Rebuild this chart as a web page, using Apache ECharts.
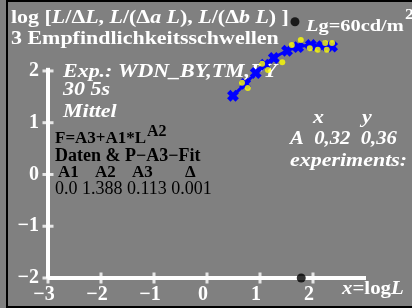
<!DOCTYPE html>
<html>
<head>
<meta charset="utf-8">
<script src="https://cdn.jsdelivr.net/npm/echarts@6.0.0/dist/echarts.min.js"></script>
<style>
  html, body { margin: 0; padding: 0; background: #808080; }
  #chart { width: 412px; height: 308px; }
</style>
</head>
<body>
<div id="chart"></div>
<script>
// tick values
const xTicks = [-3, -2, -1, 0, 1, 2];
const yTicks = [-2, -1, 0, 1, 2];

// fitted curve (blue crosses)
const blueX = [0.49, 0.72, 0.92, 1.09, 1.26, 1.51, 1.72, 1.96, 2.17, 2.36];
const blueY = [1.52, 1.75, 1.96, 2.12, 2.25, 2.39, 2.46, 2.50, 2.48, 2.47];

// measured data (yellow dots)
const yellowX = [0.66, 0.77, 1.04, 1.15, 1.42, 1.60, 1.77, 1.94, 2.09, 2.23, 2.26, 2.36];
const yellowY = [1.77, 1.67, 2.14, 2.02, 2.17, 2.50, 2.60, 2.44, 2.41, 2.54, 2.41, 2.54];

// adaptation luminance markers (top one is the legend bullet)
const markX = [1.66, 1.778];
const markY = [2.95, -2];

// fit table
const fitHeads = ['A1', 'A2', 'A3', '\u0394'];
const fitVals = ['0.0', '1.388', '0.113', '0.001'];

const SERIF = '"Liberation Serif", "DejaVu Serif", serif';
const minus = v => String(v).replace('-', '\u2212');
const SX = 1.22; // white labels are drawn wider

const chart = echarts.init(document.getElementById('chart'));

const zip = (a, b) => a.map((v, i) => [v, b[i]]);

const txt = (x, y, text, opts = {}, sx = 1) => ({
  type: 'text',
  x: x,
  y: y,
  z: 0,
  scaleX: sx,
  silent: true,
  style: Object.assign({
    text: text,
    fill: '#fff',
    fontFamily: SERIF,
    fontSize: 18,
    fontWeight: 'bold',
    verticalAlign: 'middle'
  }, opts)
});

const rich = (color, size) => ({
  n: { fill: color, fontFamily: SERIF, fontSize: size, fontWeight: 'bold' },
  i: { fill: color, fontFamily: SERIF, fontSize: size, fontWeight: 'bold', fontStyle: 'italic' }
});

const xPlus = 'path://M3,0H7V3H10V7H7V10H3V7H0V3H3Z';

const option = {
  backgroundColor: '#808080',
  animation: false,
  grid: { left: 48, right: 46, top: 14, bottom: 30 },
  xAxis: {
    type: 'value', min: -3, max: 3, interval: 1,
    axisLine: { show: false }, axisTick: { show: false }, splitLine: { show: false },
    axisLabel: {
      color: '#fff', fontFamily: SERIF, fontWeight: 'bold', fontSize: 20, margin: 7,
      padding: [0, 8, 0, 0],
      formatter: v => xTicks.includes(v) ? minus(v) : ''
    }
  },
  yAxis: {
    type: 'value', min: -2, max: 3.1, interval: 1,
    axisLine: { show: false }, axisTick: { show: false }, splitLine: { show: false },
    axisLabel: {
      color: '#fff', fontFamily: SERIF, fontWeight: 'bold', fontSize: 20, margin: 9,
      padding: [6, 0, 0, 0],
      formatter: v => yTicks.includes(v) ? minus(v) : ''
    }
  },
  series: [
    {
      type: 'line', silent: true, symbol: 'none', z: 3,
      data: [[-3, -2], [3, -2]],
      lineStyle: { color: '#fff', width: 4 }
    },
    {
      type: 'line', silent: true, symbol: 'none', z: 3,
      data: [[-3, -2], [-3, 2.06]],
      lineStyle: { color: '#fff', width: 4 }
    },
    {
      type: 'scatter', silent: true, symbol: 'rect', symbolSize: [3, 11], z: 3,
      data: xTicks.map(v => [v, -2]),
      itemStyle: { color: '#fff' }
    },
    {
      type: 'scatter', silent: true, symbol: 'rect', symbolSize: [11, 3], z: 3,
      data: yTicks.map(v => [-3, v]),
      itemStyle: { color: '#fff' }
    },
    {
      type: 'line', silent: true, smooth: 0.3, z: 4,
      data: zip(blueX, blueY),
      symbol: xPlus, symbolRotate: 45, symbolSize: 12,
      lineStyle: { color: '#0000ff', width: 3 },
      itemStyle: { color: '#0000ff' }
    },
    {
      type: 'scatter', silent: true, symbol: 'circle', symbolSize: 6, z: 5,
      data: zip(yellowX, yellowY),
      itemStyle: { color: '#ffff00' }
    },
    {
      type: 'scatter', silent: true, clip: false, symbol: 'circle', symbolSize: 9, z: 5,
      data: zip(markX, markY),
      itemStyle: { color: '#000' }
    }
  ],
  graphic: [
    {
      type: 'rect', silent: true, z: 0,
      shape: { x: 7, y: 1, width: 420, height: 306 },
      style: { fill: 'none', stroke: '#000', lineWidth: 2 }
    },
    txt(11, 18, '{n|log [}{i|L}{n|/\u0394}{i|L}{n|, }{i|L}{n|/(\u0394}{i|a L}{n|), }{i|L}{n|/(\u0394}{i|b L}{n|) ]}', { rich: rich('#fff', 18) }, SX),
    txt(11, 39, '3 Empfindlichkeitsschwellen', {}, SX),
    txt(306, 27, '{i|L}{n|g=60cd/m}', { rich: rich('#fff', 17) }, 1.2),
    txt(405, 15, '2', { fontSize: 15 }, 1.2),
    txt(63, 72, 'Exp.: WDN_BY,TM,PY', { fontStyle: 'italic' }, SX),
    txt(63, 90, '30 5s', { fontStyle: 'italic' }, SX),
    txt(63, 112, 'Mittel', { fontStyle: 'italic' }, SX),
    txt(55, 139, 'F=A3+A1*L', { fill: '#000', fontSize: 17 }),
    txt(147, 132, 'A2', { fill: '#000', fontSize: 16 }),
    txt(55, 156, 'Daten & P\u2212A3\u2212Fit', { fill: '#000', fontSize: 18 }),
    ...fitHeads.map((h, i) => txt([58, 95, 132, 185][i], 173, h, { fill: '#000', fontSize: 17 })),
    txt(55, 189, fitVals.join(' '), { fill: '#000', fontSize: 18, fontWeight: 'normal' }),
    txt(313, 118, 'x', { fontStyle: 'italic' }, SX),
    txt(362, 118, 'y', { fontStyle: 'italic' }, SX),
    txt(290, 139, 'A  0,32  0,36', { fontStyle: 'italic' }, 1.15),
    txt(290, 161, 'experiments:', { fontStyle: 'italic' }, SX),
    txt(342, 289, '{i|x}{n|=log}{i|L}', { rich: rich('#fff', 19) }, 1.1)
  ]
};

chart.setOption(option);
</script>
</body>
</html>
